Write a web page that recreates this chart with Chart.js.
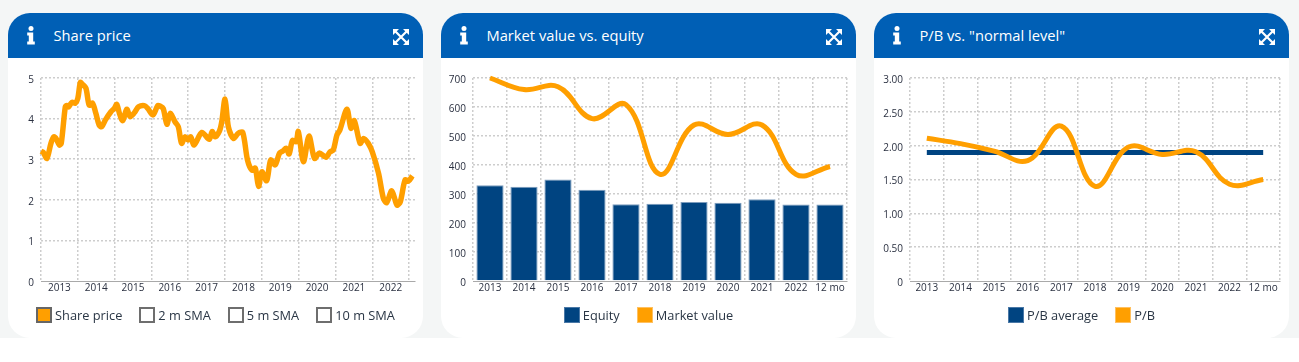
<!DOCTYPE html>
<html>
<head>
<meta charset="utf-8">
<title>Share charts</title>
<script src="https://cdn.jsdelivr.net/npm/chart.js@4"></script>
<style>
    html, body { margin: 0; padding: 0; background: #fff; }
    body { width: 1299px; height: 362px; overflow: hidden; font-family: "Open Sans", sans-serif; }
    .band { position: absolute; left: 0; top: 0; width: 1299px; height: 338px; background: #f4f6f6; }
    .card { position: absolute; top: 13px; width: 415px; height: 325px; background: #fff; border-radius: 22px; overflow: hidden; }
    .head { position: relative; height: 45px; background: #005fb5; color: #fff; }
    .head .title { position: absolute; left: 45.5px; top: 11px; font-size: 14.7px; line-height: 22px; }
    .head svg { position: absolute; }
    .head .info { left: 18px; top: 13px; }
    .head .expand { left: 385px; top: 16px; }
    canvas { position: absolute; left: 0; top: 45px; }
    .legend { position: absolute; left: 0; right: 0; top: 294px; height: 17px; display: flex; justify-content: center; font-size: 12.8px; line-height: 17px; color: #2a3645; }
    .legend .item { display: flex; margin: 0 8.5px; }
    .legend .box { box-sizing: border-box; width: 16px; height: 16px; margin-right: 3px; border: 1px solid; }
</style>
</head>
<body>
<div class="band"></div>
<div class="card" style="left:8px" id="card1"><canvas id="chart1" width="415" height="280"></canvas></div>
<div class="card" style="left:441px" id="card2"><canvas id="chart2" width="415" height="280"></canvas></div>
<div class="card" style="left:874px" id="card3"><canvas id="chart3" width="415" height="280"></canvas></div>
<script>
var priceYears = [
    2013.00, 2013.06, 2013.16, 2013.27, 2013.35, 2013.41, 2013.50, 2013.55, 2013.66, 2013.70, 2013.75, 2013.84, 2013.93,
    2014.00, 2014.07, 2014.13, 2014.22, 2014.31, 2014.40, 2014.49, 2014.58, 2014.65, 2014.75, 2014.90, 2014.99,
    2015.06, 2015.13, 2015.22, 2015.33, 2015.42, 2015.54, 2015.65, 2015.81, 2015.90,
    2016.04, 2016.17, 2016.23, 2016.32, 2016.42, 2016.51, 2016.64, 2016.73, 2016.82, 2016.91,
    2017.00, 2017.07, 2017.16, 2017.37, 2017.57, 2017.65, 2017.73, 2017.85, 2017.91,
    2018.00, 2018.09, 2018.23, 2018.36, 2018.48, 2018.61, 2018.73, 2018.82, 2018.91,
    2019.00, 2019.13, 2019.24, 2019.36, 2019.48, 2019.57, 2019.66, 2019.74, 2019.83, 2019.93, 2019.99,
    2020.13, 2020.28, 2020.43, 2020.56, 2020.74, 2020.85, 2020.94,
    2021.04, 2021.12, 2021.31, 2021.42, 2021.51, 2021.67, 2021.76, 2021.89,
    2022.00, 2022.17, 2022.30, 2022.39, 2022.53, 2022.67, 2022.76, 2022.89, 2022.98, 2023.09
];
var priceValues = [
    3.20, 3.17, 3.02, 3.39, 3.55, 3.51, 3.35, 3.39, 4.29, 4.32, 4.29, 4.40, 4.38,
    4.50, 4.89, 4.84, 4.75, 4.33, 4.38, 4.13, 3.84, 3.80, 3.97, 4.17, 4.25,
    4.35, 4.13, 3.95, 4.23, 4.05, 4.15, 4.29, 4.32, 4.25,
    4.09, 4.32, 4.31, 4.25, 3.86, 4.13, 3.92, 3.80, 3.39, 3.55,
    3.47, 3.55, 3.35, 3.66, 3.49, 3.68, 3.55, 3.70, 3.92,
    4.48, 3.80, 3.51, 3.64, 3.66, 2.98, 2.73, 2.78, 2.33,
    2.69, 2.47, 2.98, 2.86, 3.15, 3.20, 3.27, 3.13, 3.46, 3.43, 3.68,
    2.94, 3.57, 3.02, 3.15, 3.05, 3.18, 3.23,
    3.60, 3.72, 4.23, 3.76, 3.95, 3.39, 3.51, 3.39,
    3.18, 2.65, 2.04, 1.93, 2.22, 1.87, 1.95, 2.49, 2.46, 2.59
];
var priceYearLabels = [2013, 2014, 2015, 2016, 2017, 2018, 2019, 2020, 2021, 2022];
var smaLabels = ['2 m SMA', '5 m SMA', '10 m SMA'];

var categories = ['2013', '2014', '2015', '2016', '2017', '2018', '2019', '2020', '2021', '2022', '12 mo'];
var equityValues = [330, 325, 350, 315, 265, 266, 272, 270, 282, 264, 264];
var marketValues = [700, 660, 670, 560, 608, 368, 538, 505, 538, 368, 395];

var pbAverage = [1.9, 1.9, 1.9, 1.9, 1.9, 1.9, 1.9, 1.9, 1.9, 1.9, 1.9];
var pbValues = [2.11, 2.03, 1.92, 1.78, 2.29, 1.40, 1.98, 1.87, 1.91, 1.43, 1.50];

var titles = ['Share price', 'Market value vs. equity', 'P/B vs. "normal level"'];

var ORANGE = '#ff9f00';
var NAVY = '#004481';
var GRID = '#cdcdcd';
var GRID_WIDTH = 1.5;
var AXIS = '#a9a9a9';
var TICK = '#2a3040';
var TICK_FONT = { family: '"Open Sans", sans-serif', size: 10 };

function addHeader(card, title) {
    var head = document.createElement('div');
    head.className = 'head';
    head.innerHTML =
        '<svg class="info" width="10" height="19" viewBox="0 0 10 19">' +
        '<circle cx="5" cy="2.6" r="2.5" fill="#fff"/>' +
        '<path d="M1.2 6.6h6v9h1.6v3H1.2v-3h1.6v-6H1.2z" fill="#fff"/></svg>' +
        '<svg class="expand" width="16" height="16" viewBox="0 0 16 16" fill="#fff" stroke="none">' +
        '<path d="M0 0h6L0 6zM16 0v6L10 0zM0 16v-6L6 16zM16 16h-6L16 10z"/>' +
        '<path d="M2.5 2.5L13.5 13.5M13.5 2.5L2.5 13.5" stroke="#fff" stroke-width="2.2"/></svg>';
    var label = document.createElement('div');
    label.className = 'title';
    label.textContent = title;
    head.appendChild(label);
    card.insertBefore(head, card.firstChild);
}

function addLegend(card, chart) {
    var legend = document.createElement('div');
    legend.className = 'legend';
    chart.data.datasets.forEach(function (ds) {
        var item = document.createElement('div');
        item.className = 'item';
        var box = document.createElement('div');
        box.className = 'box';
        box.style.background = ds.legendFill;
        box.style.borderColor = ds.legendBorder;
        box.style.borderWidth = ds.legendBorderWidth + 'px';
        var text = document.createElement('span');
        text.textContent = ds.label;
        item.appendChild(box);
        item.appendChild(text);
        legend.appendChild(item);
    });
    card.appendChild(legend);
}

function yAxis(max, width, step, format) {
    return {
        min: 0,
        max: max,
        afterFit: function (scale) { scale.width = width; },
        border: { display: false, dash: [2, 2] },
        grid: {
            drawTicks: false,
            lineWidth: GRID_WIDTH,
            color: function (ctx) { return ctx.tick && ctx.tick.value === 0 ? 'transparent' : GRID; }
        },
        ticks: {
            stepSize: step,
            padding: 7,
            labelOffset: 2,
            color: TICK,
            font: TICK_FONT,
            callback: format
        }
    };
}

function categoryAxis() {
    return {
        offset: true,
        afterFit: function (scale) { scale.height = 18; },
        border: { display: true, color: AXIS, dash: [2, 2] },
        grid: {
            offset: true,
            drawTicks: false,
            lineWidth: GRID_WIDTH,
            color: function (ctx) { return ctx.index === categories.length ? 'transparent' : GRID; }
        },
        ticks: { padding: 1, color: TICK, font: TICK_FONT, maxRotation: 0, autoSkip: false }
    };
}

function baseOptions(right, scales) {
    return {
        responsive: false,
        animation: false,
        layout: { padding: { top: 20, right: right, bottom: 39, left: 0 } },
        plugins: { legend: { display: false }, tooltip: { enabled: false } },
        scales: scales
    };
}

// Share price: year grid lines, labels centred between them
var priceX = {
    type: 'linear',
    min: 2013,
    max: 2023.16,
    afterFit: function (scale) { scale.height = 18; },
    afterBuildTicks: function (scale) {
        var ticks = [];
        priceYearLabels.forEach(function (y) {
            ticks.push({ value: y });
            ticks.push({ value: y + 0.5 });
        });
        ticks.push({ value: 2023 });
        scale.ticks = ticks;
    },
    border: { display: true, color: AXIS, dash: [2, 2] },
    grid: {
        drawTicks: false,
        lineWidth: GRID_WIDTH,
        color: function (ctx) {
            return ctx.tick && Number.isInteger(ctx.tick.value) ? GRID : 'transparent';
        }
    },
    ticks: {
        padding: 1,
        color: TICK,
        font: TICK_FONT,
        maxRotation: 0,
        autoSkip: false,
        callback: function (v) { return Number.isInteger(v) ? '' : String(Math.floor(v)); }
    }
};

var pricePoints = priceYears.map(function (y, i) { return { x: y, y: priceValues[i] }; });
var priceSets = [{
    label: 'Share price',
    data: pricePoints,
    borderColor: ORANGE,
    borderWidth: 5.5,
    pointRadius: 0,
    tension: 0.3,
    clip: false,
    legendFill: ORANGE,
    legendBorder: '#666',
    legendBorderWidth: 2
}];
smaLabels.forEach(function (name) {
    priceSets.push({
        label: name,
        data: [],
        borderColor: '#666',
        legendFill: '#fff',
        legendBorder: '#6e6e6e',
        legendBorderWidth: 2
    });
});

var chart1 = new Chart(document.getElementById('chart1'), {
    type: 'line',
    data: { datasets: priceSets },
    options: baseOptions(8, {
        x: priceX,
        y: yAxis(5, 33, 1)
    })
});

var chart2 = new Chart(document.getElementById('chart2'), {
    type: 'bar',
    data: {
        labels: categories,
        datasets: [{
            label: 'Equity',
            data: equityValues,
            backgroundColor: NAVY,
            borderColor: '#7c9cbd',
            borderWidth: 1,
            barPercentage: 0.8,
            categoryPercentage: 1,
            order: 2,
            legendFill: NAVY,
            legendBorder: '#4a78a6',
            legendBorderWidth: 1
        }, {
            type: 'line',
            label: 'Market value',
            data: marketValues,
            borderColor: ORANGE,
            borderWidth: 5,
            pointRadius: 0,
            tension: 0.4,
            clip: false,
            order: 1,
            legendFill: ORANGE,
            legendBorder: '#ffc060',
            legendBorderWidth: 1
        }]
    },
    options: baseOptions(9, {
        x: categoryAxis(),
        y: yAxis(700, 32, 100)
    })
});

var chart3 = new Chart(document.getElementById('chart3'), {
    type: 'line',
    data: {
        labels: categories,
        datasets: [{
            label: 'P/B average',
            data: pbAverage,
            borderColor: NAVY,
            borderWidth: 5,
            pointRadius: 0,
            tension: 0,
            order: 2,
            legendFill: NAVY,
            legendBorder: '#4a78a6',
            legendBorderWidth: 1
        }, {
            label: 'P/B',
            data: pbValues,
            borderColor: ORANGE,
            borderWidth: 5,
            pointRadius: 0,
            tension: 0.4,
            order: 1,
            legendFill: ORANGE,
            legendBorder: '#ffc060',
            legendBorderWidth: 1
        }]
    },
    options: baseOptions(9, {
        x: categoryAxis(),
        y: yAxis(3, 36, 0.5, function (v) { return v === 0 ? '0' : v.toFixed(2); })
    })
});

[chart1, chart2, chart3].forEach(function (chart, i) {
    var card = document.getElementById('card' + (i + 1));
    addHeader(card, titles[i]);
    addLegend(card, chart);
});
</script>
</body>
</html>
